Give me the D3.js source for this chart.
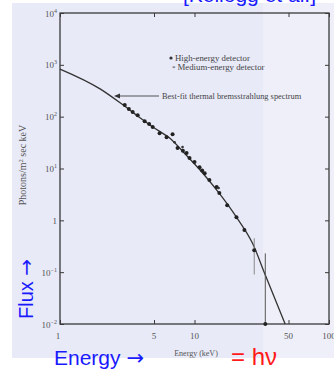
<!DOCTYPE html>
<html>
<head>
<meta charset="utf-8">
<script src="https://cdn.jsdelivr.net/npm/d3@7"></script>
<style>
body { margin: 0; background: #fff; }
text { font-family: "Liberation Serif", "DejaVu Serif", serif; }
.blue, .red { font-family: "Liberation Sans", Arial, "DejaVu Sans", sans-serif; }
.arrow { font-family: "DejaVu Sans", sans-serif; }
</style>
</head>
<body>
<svg width="334" height="372"></svg>
<script>
// best-fit thermal bremsstrahlung curve
var curveE = [1, 2, 2.8, 3.7, 4.9, 6.5, 8.7, 11.5, 15.3, 20.5, 27, 33.6, 47.2];
var curveF = [830, 340, 185, 107, 63, 39, 18, 8.2, 3.3, 1.15, 0.36, 0.088, 0.01];

// high-energy detector points
var highE = [3.03, 3.25, 3.47, 3.78, 4.26, 4.6, 4.89, 5.5, 6.2, 6.87, 7.48, 8.2, 8.73, 9.18, 10.0, 10.9, 11.4, 11.9, 12.9, 14.6, 15.3, 17.5, 20.5, 23.5, 27.8, 33.6];
var highF = [167, 140, 123, 107, 82, 72, 63, 48, 40, 46, 24.8, 22, 19.8, 15.9, 13.3, 10.6, 9.2, 8.1, 6.0, 4.4, 3.35, 1.96, 1.15, 0.65, 0.266, 0.01];

// medium-energy detector points
var medE = [7.11, 8.15, 15.1];
var medF = [32, 25.9, 4.2];

// error bars
var barE = [27.8, 33.6];
var barLo = [0.09, 0.01];
var barHi = [0.45, 0.23];

var xTicks = [1, 5, 10, 50, 100];
var xTickLabels = ["1", "5", "10", "50", "100"];
var yTicks = [1e4, 1e3, 1e2, 1e1, 1, 1e-1, 1e-2];
var yTickBase = ["10", "10", "10", "10", "1", "10", "10"];
var yTickExp = ["4", "3", "2", "1", "", "\u22121", "\u22122"];

var svg = d3.select("svg");

// scanned page tint
svg.append("rect").attr("x", 12).attr("y", 3).attr("width", 322).attr("height", 355).attr("fill", "#e8eaf8");
svg.append("rect").attr("x", 263).attr("y", 3).attr("width", 71).attr("height", 355).attr("fill", "#eeeff9");

var x = d3.scaleLog().domain([1, 100]).range([60, 329]);
var y = d3.scaleLog().domain([1e-2, 1e4]).range([324, 13]);

var ink = "#3a3a3a";

// axes with inward ticks
var axLeft = svg.append("g").attr("transform", "translate(60,0)")
  .call(d3.axisLeft(y).tickValues(yTicks).tickSize(-4).tickFormat(""));
var axRight = svg.append("g").attr("transform", "translate(329,0)")
  .call(d3.axisRight(y).tickValues(yTicks).tickSize(-4).tickFormat(""));
var axBottom = svg.append("g").attr("transform", "translate(0,324)")
  .call(d3.axisBottom(x).tickValues(xTicks).tickSize(-4).tickFormat(""));
var axTop = svg.append("g").attr("transform", "translate(0,13)")
  .call(d3.axisTop(x).tickValues(xTicks).tickSize(-4).tickFormat(""));

[axLeft, axRight, axBottom, axTop].forEach(function(a) {
  a.select(".domain").remove();
  a.selectAll("line").attr("stroke", ink).attr("stroke-width", 1);
});

// frame
svg.append("rect")
  .attr("x", x(1)).attr("y", y(1e4))
  .attr("width", x(100) - x(1)).attr("height", y(1e-2) - y(1e4))
  .attr("fill", "none").attr("stroke", ink).attr("stroke-width", 1.3);

// y tick labels with superscripts
yTicks.forEach(function(v, i) {
  var t = svg.append("text")
    .attr("x", 57).attr("y", y(v) + 3.5)
    .attr("text-anchor", "end")
    .attr("font-size", 9).attr("fill", "#555");
  t.append("tspan").text(yTickBase[i]);
  if (yTickExp[i]) {
    t.append("tspan").attr("dy", -4).attr("font-size", 6).text(yTickExp[i]);
  }
});

// x tick labels
xTicks.forEach(function(v, i) {
  svg.append("text")
    .attr("x", x(v) - (i == 0 ? 2 : 0)).attr("y", 339)
    .attr("text-anchor", "middle")
    .attr("font-size", 9).attr("fill", "#555")
    .text(xTickLabels[i]);
});

// fitted curve
var curve = curveE.map(function(e, i) { return [e, curveF[i]]; });
svg.append("path")
  .datum(curve)
  .attr("fill", "none").attr("stroke", "#333").attr("stroke-width", 1.3)
  .attr("d", d3.line()
    .x(function(d) { return x(d[0]); })
    .y(function(d) { return y(d[1]); })
    .curve(d3.curveMonotoneX));

// error bars
barE.forEach(function(e, i) {
  svg.append("line")
    .attr("x1", x(e)).attr("x2", x(e))
    .attr("y1", y(barHi[i])).attr("y2", y(barLo[i]))
    .attr("stroke", i == 0 ? "#888" : "#555").attr("stroke-width", 1);
});

// detector points
svg.append("g").selectAll("circle")
  .data(highE)
  .enter().append("circle")
  .attr("cx", function(d) { return x(d); })
  .attr("cy", function(d, i) { return y(highF[i]); })
  .attr("r", 2)
  .attr("fill", "#222");

svg.append("g").selectAll("circle")
  .data(medE)
  .enter().append("circle")
  .attr("cx", function(d) { return x(d); })
  .attr("cy", function(d, i) { return y(medF[i]); })
  .attr("r", 1.3)
  .attr("fill", "#333");

// legend
svg.append("circle").attr("cx", 171).attr("cy", 58).attr("r", 1.6).attr("fill", "#333");
svg.append("text").attr("x", 175).attr("y", 61).attr("font-size", 8.8).attr("fill", "#444")
  .text("High-energy detector");
svg.append("text").attr("x", 172).attr("y", 69.5).attr("font-size", 7).attr("fill", "#444")
  .text("*");
svg.append("text").attr("x", 177.5).attr("y", 70).attr("font-size", 8.8).attr("fill", "#444")
  .text("Medium-energy detector");

// curve annotation
svg.append("line").attr("x1", 118).attr("x2", 159).attr("y1", 96).attr("y2", 96)
  .attr("stroke", "#555").attr("stroke-width", 1);
svg.append("path").attr("d", "M114,96 L120,93.5 L120,98.5 Z").attr("fill", "#333");
svg.append("text").attr("x", 162).attr("y", 99).attr("font-size", 8.4).attr("fill", "#444")
  .text("Best-fit thermal bremsstrahlung spectrum");

// axis titles from the scan
svg.append("text")
  .attr("transform", "translate(26,165) rotate(-90)")
  .attr("text-anchor", "middle").attr("font-size", 10).attr("fill", "#555")
  .html("Photons/m<tspan dy='-3' font-size='6.5'>2</tspan><tspan dy='3'> sec keV</tspan>");
svg.append("text").attr("x", 196).attr("y", 356).attr("text-anchor", "middle")
  .attr("font-size", 8).attr("fill", "#555").text("Energy (keV)");

// overlaid slide annotations
svg.append("text").attr("class", "blue").attr("x", 316).attr("y", 2)
  .attr("text-anchor", "end").attr("font-size", 21).attr("fill", "#1a1aff")
  .text("[Kellogg et al.]");
var en = svg.append("text").attr("class", "blue").attr("x", 54).attr("y", 365)
  .attr("font-size", 21).attr("fill", "#1a1aff");
en.append("tspan").text("Energy ");
en.append("tspan").attr("class", "arrow").text("\u2192");
var fl = svg.append("text").attr("class", "blue")
  .attr("transform", "translate(33,319) rotate(-90)")
  .attr("font-size", 20).attr("fill", "#1a1aff");
fl.append("tspan").text("Flux ");
fl.append("tspan").attr("class", "arrow").text("\u2192");
svg.append("text").attr("class", "red").attr("x", 231).attr("y", 365)
  .attr("font-size", 24).attr("fill", "#ff1a1a").text("= h\u03bd");
</script>
</body>
</html>
